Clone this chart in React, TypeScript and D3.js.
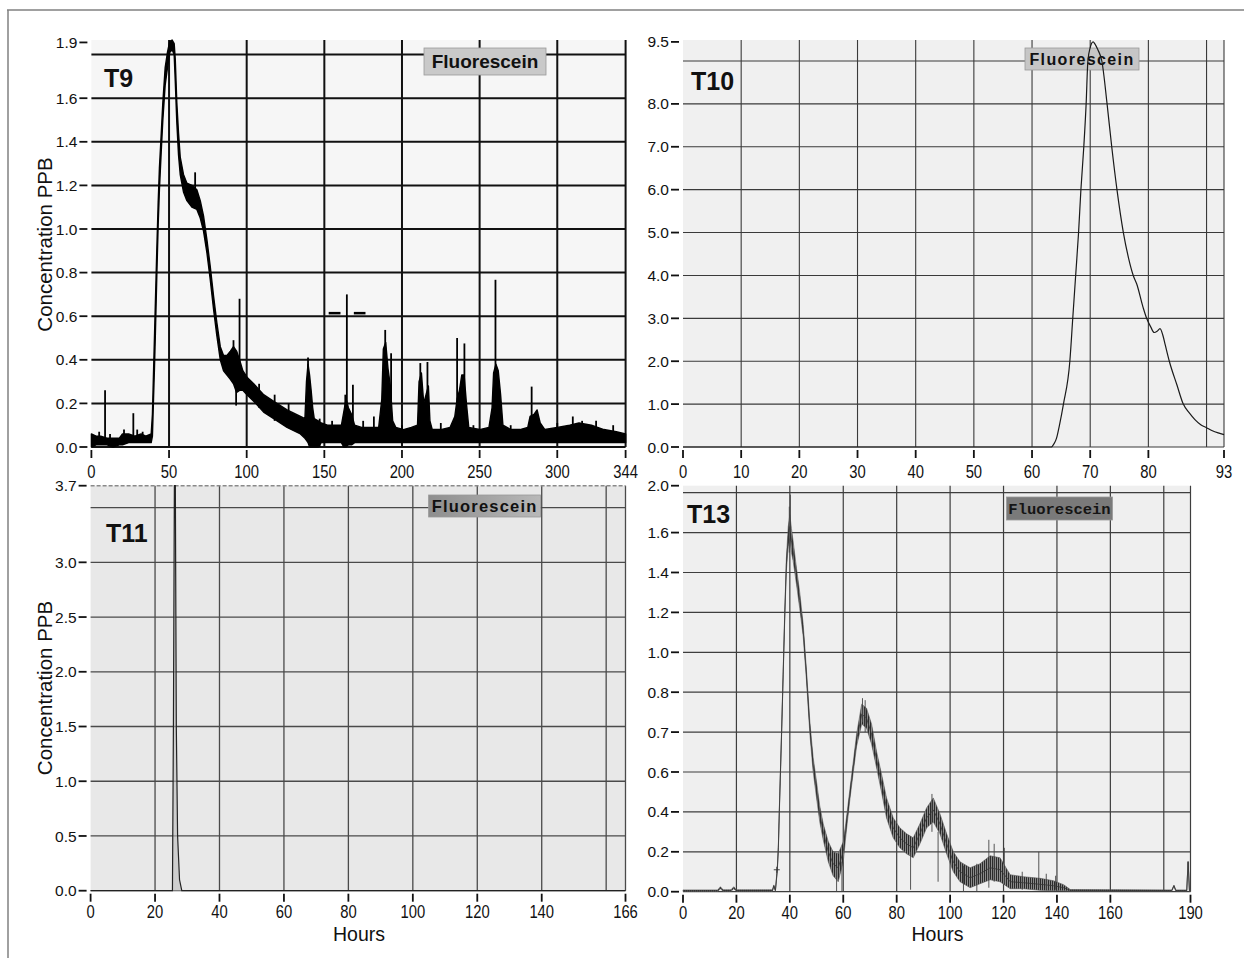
import React from "react";
import * as d3 from "d3";

type Band = [number, number, number];
type Seg = [number, number, number];

const SANS = "'Liberation Sans', Arial, Helvetica, sans-serif";
const MONO = "'Liberation Mono', 'Courier New', monospace";

// ---------------- T9 ----------------
const t9XTicks = [0, 50, 100, 150, 200, 250, 300, 344];
const t9XGrid = [50, 100, 150, 200, 250, 300, 344];
const t9YTicks = [0, 0.2, 0.4, 0.6, 0.8, 1.0, 1.2, 1.4, 1.6, 1.9];
const t9YLabels = ["0.0", "0.2", "0.4", "0.6", "0.8", "1.0", "1.2", "1.4", "1.6", "1.9"];
const t9YGrid = [0.2, 0.4, 0.6, 0.8, 1.0, 1.2, 1.4, 1.6, 1.8];
// [hours, low, high] envelope of the noisy record
const t9Band: Band[] = [
  [0, 0.0, 0.06], [3, 0.01, 0.05], [6, 0.01, 0.05], [10, 0.01, 0.04], [14, 0.0, 0.04],
  [18, 0.01, 0.04], [20, 0.01, 0.06], [24, 0.02, 0.06], [28, 0.02, 0.05], [32, 0.02, 0.06],
  [35, 0.02, 0.05], [38.5, 0.02, 0.06], [39.3, 0.05, 0.15], [40.0, 0.22, 0.34], [40.6, 0.36, 0.5],
  [41.2, 0.52, 0.66], [42.1, 0.78, 0.9], [43.0, 1.02, 1.12], [43.8, 1.18, 1.28], [45.0, 1.36, 1.44],
  [46.0, 1.5, 1.58], [47.5, 1.66, 1.74], [49.0, 1.74, 1.82], [50.5, 1.82, 1.91], [52.0, 1.84, 1.92],
  [53.3, 1.8, 1.89], [54.0, 1.68, 1.78], [55.0, 1.49, 1.58], [56.1, 1.34, 1.44], [57.2, 1.25, 1.33],
  [59.3, 1.17, 1.25], [61.5, 1.13, 1.21], [64.7, 1.1, 1.2], [67.9, 1.09, 1.18], [70.1, 1.05, 1.13],
  [72.2, 0.99, 1.06], [74.4, 0.89, 0.95], [76.5, 0.77, 0.83], [78.7, 0.63, 0.69], [80.8, 0.51, 0.57],
  [83.0, 0.4, 0.46], [85.1, 0.35, 0.42], [87.3, 0.33, 0.42], [89.5, 0.31, 0.44], [91.5, 0.29, 0.46],
  [93.5, 0.25, 0.44], [95.4, 0.26, 0.4], [97.5, 0.26, 0.35], [100.2, 0.24, 0.32], [104.5, 0.21, 0.29],
  [110.9, 0.16, 0.24], [117.4, 0.13, 0.21], [126.0, 0.09, 0.17], [134.6, 0.06, 0.14], [137.5, 0.04, 0.13],
  [138.5, 0.03, 0.3], [139.5, 0.02, 0.38], [140.5, 0.0, 0.33], [141.5, 0.0, 0.26], [142.5, 0.0, 0.18],
  [143.5, 0.0, 0.13], [146.0, 0.0, 0.12], [148.0, 0.02, 0.11], [152, 0.02, 0.1], [157, 0.02, 0.1],
  [161, 0.02, 0.1], [162.5, 0.0, 0.16], [164.0, 0.0, 0.22], [165.5, 0.01, 0.18], [167.5, 0.01, 0.15],
  [169.5, 0.02, 0.1], [174, 0.02, 0.09], [179, 0.02, 0.09], [185, 0.02, 0.09], [187, 0.02, 0.22],
  [188, 0.02, 0.45], [189.5, 0.02, 0.48], [191, 0.02, 0.36], [192.5, 0.02, 0.28], [194, 0.02, 0.12],
  [196, 0.02, 0.09], [201, 0.02, 0.08], [206, 0.02, 0.09], [210, 0.02, 0.1], [211, 0.02, 0.3],
  [212.5, 0.02, 0.34], [214, 0.02, 0.2], [215.5, 0.02, 0.24], [217, 0.02, 0.28], [218, 0.02, 0.12],
  [219.5, 0.02, 0.08], [225, 0.02, 0.08], [231, 0.02, 0.09], [234, 0.02, 0.14], [235.5, 0.02, 0.22],
  [237, 0.02, 0.26], [238.5, 0.02, 0.33], [240, 0.02, 0.33], [241.5, 0.02, 0.2], [243, 0.02, 0.09],
  [250, 0.02, 0.08], [256, 0.02, 0.09], [258, 0.02, 0.18], [259, 0.02, 0.34], [260.5, 0.02, 0.38],
  [262, 0.02, 0.35], [263.5, 0.02, 0.24], [265, 0.02, 0.1], [270, 0.02, 0.08], [276, 0.02, 0.08],
  [281, 0.02, 0.09], [282.5, 0.02, 0.14], [285, 0.02, 0.15], [287, 0.02, 0.17], [289, 0.02, 0.11],
  [292, 0.02, 0.08], [300, 0.02, 0.09], [308, 0.02, 0.1], [314, 0.02, 0.11], [322, 0.02, 0.1],
  [330, 0.02, 0.08], [338, 0.02, 0.07], [344, 0.02, 0.06],
];
// [hours, from, to] isolated spikes
const t9Spikes: Seg[] = [
  [5, 0.02, 0.07], [8.8, 0.02, 0.26], [12, 0.02, 0.06], [21, 0.02, 0.08], [27, 0.02, 0.155],
  [29.5, 0.02, 0.08], [33, 0.02, 0.07], [66.8, 1.15, 1.26], [91.5, 0.35, 0.49], [93.2, 0.19, 0.35],
  [95.4, 0.35, 0.68], [108, 0.18, 0.29], [118, 0.12, 0.24], [127, 0.1, 0.2], [139.5, 0.1, 0.41],
  [147, 0.0, 0.13], [155, 0.05, 0.12], [163.5, 0.0, 0.24], [164.5, 0.1, 0.7], [168.4, 0.1, 0.285],
  [175, 0.05, 0.12], [181.9, 0.05, 0.14], [189.2, 0.1, 0.537], [193, 0.1, 0.43], [200, 0.05, 0.1],
  [211.8, 0.1, 0.385], [216.4, 0.1, 0.39], [225, 0.05, 0.11], [235.5, 0.1, 0.5], [240.2, 0.1, 0.475],
  [246, 0.05, 0.1], [260.2, 0.1, 0.767], [270, 0.05, 0.1], [283.5, 0.1, 0.277], [300, 0.05, 0.11],
  [310, 0.05, 0.14], [316, 0.05, 0.12], [325, 0.05, 0.12], [336, 0.05, 0.1],
];
// [from hours, to hours, value] short dashes
const t9Dashes: Seg[] = [[152.8, 160.4, 0.614], [169, 176.5, 0.614]];

// ---------------- T10 ----------------
const t10XTicks = [0, 10, 20, 30, 40, 50, 60, 70, 80, 93];
const t10XGrid = [10, 20, 30, 40, 50, 60, 70, 80, 90, 93];
const t10YTicks = [0, 1, 2, 3, 4, 5, 6, 7, 8, 9.5];
const t10YLabels = ["0.0", "1.0", "2.0", "3.0", "4.0", "5.0", "6.0", "7.0", "8.0", "9.5"];
const t10YGrid = [1, 2, 3, 4, 5, 6, 7, 8, 9];
const t10Hours = [0, 63.3, 63.8, 64.2, 64.7, 65.4, 66.5, 67.0, 67.5, 68.0, 68.4, 68.9, 69.3, 69.6, 70.0, 70.5, 70.8, 71.3, 72.0, 72.9, 73.7, 74.6, 75.7, 76.6, 77.4, 78.0, 79.1, 79.7, 80.4, 81.0, 81.5, 82.0, 82.5, 82.9, 83.6, 84.9, 86.0, 87.0, 88.0, 89.0, 90.0, 91.0, 92.0, 93.0];
const t10Conc = [0, 0, 0.08, 0.2, 0.5, 1.0, 2.0, 3.0, 4.0, 5.0, 6.0, 7.0, 8.0, 9.0, 9.35, 9.5, 9.45, 9.3, 9.0, 8.0, 7.0, 6.0, 5.0, 4.4, 4.0, 3.8, 3.25, 3.0, 2.8, 2.67, 2.7, 2.76, 2.6, 2.38, 2.0, 1.45, 1.0, 0.8, 0.64, 0.52, 0.45, 0.38, 0.33, 0.29];

// ---------------- T11 ----------------
const t11XTicks = [0, 20, 40, 60, 80, 100, 120, 140, 166];
const t11XGrid = [20, 40, 60, 80, 100, 120, 140, 160, 166];
const t11YTicks = [0, 0.5, 1.0, 1.5, 2.0, 2.5, 3.0, 3.7];
const t11YLabels = ["0.0", "0.5", "1.0", "1.5", "2.0", "2.5", "3.0", "3.7"];
const t11YGrid = [0.5, 1.0, 1.5, 2.0, 2.5, 3.0, 3.5];
const t11Hours = [0, 25.4, 25.7, 26.0, 26.3, 26.6, 27.0, 27.6, 28.3, 166];
const t11Conc = [0, 0, 1.5, 3.7, 3.7, 1.5, 0.5, 0.1, 0, 0];

// ---------------- T13 ----------------
const t13XTicks = [0, 20, 40, 60, 80, 100, 120, 140, 160, 190];
const t13XGrid = [20, 40, 60, 80, 100, 120, 140, 160, 180, 190];
const t13YTicks = [0, 0.2, 0.4, 0.6, 0.8, 1.0, 1.2, 1.4, 1.6, 1.8, 2.035];
const t13YLabels = ["0.0", "0.2", "0.4", "0.6", "0.7", "0.8", "1.0", "1.2", "1.4", "1.6", "2.0"];
const t13YGrid = [0.2, 0.4, 0.6, 0.8, 1.0, 1.2, 1.4, 1.6, 1.8, 2.0];
// [hours, centre, half-width of noise]
const t13Band: Band[] = [
  [0, 0.005, 0.004], [13, 0.005, 0.004], [14, 0.02, 0.005], [15, 0.006, 0.004], [18, 0.006, 0.004],
  [19, 0.02, 0.005], [20, 0.006, 0.004], [33.5, 0.006, 0.004], [34, 0.03, 0.004], [34.6, 0.006, 0.004],
  [35.3, 0.11, 0.01], [35.7, 0.22, 0.01], [36.2, 0.47, 0.012], [36.9, 0.79, 0.012], [37.5, 1.09, 0.015],
  [38.1, 1.39, 0.02], [38.7, 1.64, 0.03], [39.4, 1.78, 0.05], [40.0, 1.83, 0.06], [40.6, 1.76, 0.06],
  [41.2, 1.71, 0.05], [42.5, 1.58, 0.04], [43.7, 1.46, 0.04], [45.0, 1.31, 0.03], [46.2, 1.09, 0.025],
  [47.5, 0.82, 0.03], [48.7, 0.64, 0.035], [50.0, 0.51, 0.04], [51.2, 0.39, 0.04], [52.5, 0.3, 0.04],
  [54.4, 0.2, 0.05], [56.2, 0.14, 0.06], [58.1, 0.12, 0.07], [60.0, 0.2, 0.05], [61.2, 0.34, 0.03],
  [62.5, 0.49, 0.025], [63.7, 0.62, 0.025], [65.0, 0.76, 0.03], [66.9, 0.89, 0.05], [68.7, 0.87, 0.05],
  [70.6, 0.79, 0.05], [72.5, 0.66, 0.04], [74.4, 0.54, 0.045], [76.2, 0.42, 0.05], [78.7, 0.32, 0.05],
  [81.2, 0.27, 0.05], [83.7, 0.24, 0.05], [86.2, 0.22, 0.05], [88.7, 0.29, 0.05], [91.2, 0.37, 0.05],
  [93.7, 0.41, 0.06], [96.2, 0.34, 0.05], [98.7, 0.24, 0.05], [101.2, 0.15, 0.05], [103.7, 0.1, 0.05],
  [107.5, 0.07, 0.05], [111.2, 0.09, 0.05], [115.0, 0.12, 0.06], [118.7, 0.11, 0.06], [122.5, 0.05, 0.035],
  [127.5, 0.045, 0.03], [133.7, 0.037, 0.03], [138.7, 0.03, 0.025], [142.5, 0.02, 0.015], [145.0, 0.007, 0.004],
  [183, 0.006, 0.003], [183.8, 0.03, 0.003], [184.5, 0.006, 0.003], [188.6, 0.006, 0.003], [189.1, 0.15, 0.003],
  [189.6, 0.006, 0.003], [190, 0.006, 0.003],
];
const t13Spikes: Seg[] = [
  [39.8, 1.7, 1.93], [40.2, 1.8, 1.99], [57.5, 0.0, 0.12], [59.5, 0.0, 0.15], [67.2, 0.85, 0.97],
  [68.2, 0.8, 0.96], [85.2, 0.01, 0.2], [93.2, 0.3, 0.49], [95.5, 0.05, 0.3], [105, 0.0, 0.13],
  [110, 0.0, 0.14], [114.5, 0.02, 0.26], [116.5, 0.05, 0.24], [120.3, 0.04, 0.22], [127, 0.01, 0.1],
  [133.2, 0.02, 0.2], [136, 0.01, 0.09], [139.5, 0.01, 0.08],
];
const t13Marker: [number, number] = [35.1, 0.11];

type Scale = d3.ScaleLinear<number, number>;

interface FrameProps {
  x: Scale;
  y: Scale;
  xTicks: number[];
  xGrid: number[];
  yTicks: number[];
  yLabels: string[];
  yGrid: number[];
  gridColor: string;
  gridWidth: number;
  bg: string;
  labelOffset: number;
}

function Frame(p: FrameProps) {
  const [x0, x1] = p.x.range();
  const r = p.y.range();
  const yb = r[0];
  const yt = r[r.length - 1];
  return (
    <g>
      <rect x={x0} y={yt} width={x1 - x0} height={yb - yt} fill={p.bg} />
      {p.yGrid.map((v) => (
        <line key={"h" + v} x1={x0} x2={x1} y1={p.y(v)} y2={p.y(v)} stroke={p.gridColor} strokeWidth={p.gridWidth} />
      ))}
      {p.xGrid.map((v) => (
        <line key={"v" + v} x1={p.x(v)} x2={p.x(v)} y1={yt} y2={yb} stroke={p.gridColor} strokeWidth={p.gridWidth} />
      ))}
      <line x1={x0} x2={x1} y1={yb} y2={yb} stroke={p.gridColor} strokeWidth={p.gridWidth} />
      {p.yTicks.map((v, i) => (
        <g key={"yt" + i}>
          <line x1={x0 - 12} x2={x0 - 4} y1={p.y(v)} y2={p.y(v)} stroke="#111" strokeWidth={1.8} />
          <text x={x0 - 14} y={p.y(v)} dy="0.36em" textAnchor="end" fontFamily={SANS} fontSize={15.5} fill="#111">
            {p.yLabels[i]}
          </text>
        </g>
      ))}
      {p.xTicks.map((v) => (
        <g key={"xt" + v}>
          <line x1={p.x(v)} x2={p.x(v)} y1={yb + 3} y2={yb + 11} stroke="#111" strokeWidth={1.8} />
          <text
            transform={`translate(${p.x(v)},${yb + p.labelOffset}) scale(0.8,1)`}
            textAnchor="middle"
            fontFamily={SANS}
            fontSize={18.5}
            fill="#111"
          >
            {v}
          </text>
        </g>
      ))}
    </g>
  );
}

interface LegendProps {
  x: number;
  y: number;
  w: number;
  h: number;
  fill: string;
  font: string;
  size: number;
  spacing: number;
  color: string;
}

function Legend(p: LegendProps) {
  return (
    <g>
      <rect x={p.x} y={p.y} width={p.w} height={p.h} fill={p.fill} stroke="#9a9a9a" strokeWidth={0.8} />
      <text
        x={p.x + p.w / 2}
        y={p.y + p.h / 2}
        dy="0.36em"
        textAnchor="middle"
        fontFamily={p.font}
        fontWeight="bold"
        fontSize={p.size}
        letterSpacing={p.spacing}
        fill={p.color}
      >
        Fluorescein
      </text>
    </g>
  );
}

function Title({ x, y, text }: { x: number; y: number; text: string }) {
  return (
    <text x={x} y={y} fontFamily={SANS} fontWeight="bold" fontSize={25} fill="#111">
      {text}
    </text>
  );
}

export default function App() {
  // scales
  const x9 = d3.scaleLinear().domain([0, 344]).range([91.4, 625.6]);
  const y9 = d3.scaleLinear().domain([0, 1.8, 1.92]).range([447, 54.6, 40]);
  const x10 = d3.scaleLinear().domain([0, 93]).range([683, 1224]);
  const y10 = d3.scaleLinear().domain([0, 9, 9.55]).range([447, 61, 40]);
  const x11 = d3.scaleLinear().domain([0, 166]).range([90.6, 625.5]);
  const y11 = d3.scaleLinear().domain([0, 3.7]).range([890.7, 485.7]);
  const x13 = d3.scaleLinear().domain([0, 190]).range([683, 1190.5]);
  const y13 = d3.scaleLinear().domain([0, 2.035]).range([891.7, 485.7]);

  const band9 = d3
    .area<Band>()
    .x((d) => x9(d[0]))
    .y0((d) => y9(d[1]))
    .y1((d) => y9(d[2]))(t9Band) as string;

  const line10 = d3
    .line<number>()
    .x((_, i) => x10(t10Hours[i]))
    .y((d) => y10(d))
    .curve(d3.curveMonotoneX)(t10Conc) as string;

  const line11 = d3
    .line<number>()
    .x((_, i) => x11(t11Hours[i]))
    .y((d) => y11(d))(t11Conc) as string;

  const band13 = d3
    .area<Band>()
    .x((d) => x13(d[0]))
    .y0((d) => y13(Math.max(0, d[1] - d[2])))
    .y1((d) => y13(d[1] + d[2]))(t13Band) as string;
  const mid13 = d3
    .line<Band>()
    .x((d) => x13(d[0]))
    .y((d) => y13(d[1]))(t13Band) as string;

  return (
    <svg
      width={1244}
      height={958}
      viewBox="0 0 1244 958"
      style={{ position: "absolute", left: 0, top: 0, background: "#fff" }}
    >
      <defs>
        <pattern id="hatch" width="2" height="4" patternUnits="userSpaceOnUse">
          <rect width="2" height="4" fill="#8a8a8a" />
          <rect width="1" height="4" fill="#2a2a2a" />
        </pattern>
        <linearGradient id="g11" x1="0" x2="1" y1="0" y2="0">
          <stop offset="0" stopColor="#8e8e8e" />
          <stop offset="1" stopColor="#b8b8b8" />
        </linearGradient>
      </defs>
      <rect x={0} y={0} width={1244} height={958} fill="#fff" />
      {/* page frame */}
      <line x1={7} x2={1244} y1={10} y2={10} stroke="#808080" strokeWidth={1.5} />
      <line x1={8} x2={8} y1={10} y2={958} stroke="#808080" strokeWidth={1.5} />

      {/* ---------- T9 ---------- */}
      <Frame
        x={x9}
        y={y9}
        xTicks={t9XTicks}
        xGrid={t9XGrid}
        yTicks={t9YTicks}
        yLabels={t9YLabels}
        yGrid={t9YGrid}
        gridColor="#111"
        gridWidth={2}
        bg="#f6f6f6"
        labelOffset={31}
      />
      <Legend x={424} y={48} w={122} h={27} fill="#c9c9c9" font={SANS} size={19} spacing={0} color="#111" />
      <Title x={104} y={87} text="T9" />
      <path d={band9} fill="#000" stroke="#000" strokeWidth={1.4} strokeLinejoin="round" />
      {t9Spikes.map((s, i) => (
        <line key={"s9" + i} x1={x9(s[0])} x2={x9(s[0])} y1={y9(s[1])} y2={y9(s[2])} stroke="#000" strokeWidth={1.8} />
      ))}
      {t9Dashes.map((s, i) => (
        <line key={"d9" + i} x1={x9(s[0])} x2={x9(s[1])} y1={y9(s[2])} y2={y9(s[2])} stroke="#000" strokeWidth={2.5} />
      ))}

      {/* ---------- T10 ---------- */}
      <Frame
        x={x10}
        y={y10}
        xTicks={t10XTicks}
        xGrid={t10XGrid}
        yTicks={t10YTicks}
        yLabels={t10YLabels}
        yGrid={t10YGrid}
        gridColor="#3a3a3a"
        gridWidth={1.1}
        bg="#f0f0f0"
        labelOffset={31}
      />
      <Legend x={1025} y={48} w={114} h={22} fill="#c6c6c6" font={SANS} size={16} spacing={1.4} color="#111" />
      <Title x={691} y={90} text="T10" />
      <path d={line10} fill="none" stroke="#1a1a1a" strokeWidth={1.2} />

      {/* ---------- T11 ---------- */}
      <Frame
        x={x11}
        y={y11}
        xTicks={t11XTicks}
        xGrid={t11XGrid}
        yTicks={t11YTicks}
        yLabels={t11YLabels}
        yGrid={t11YGrid}
        gridColor="#4a4a4a"
        gridWidth={1.3}
        bg="#e8e8e8"
        labelOffset={27.5}
      />
      <line x1={x11(0)} x2={x11(166)} y1={y11(3.7)} y2={y11(3.7)} stroke="#8a8a8a" strokeWidth={1.5} strokeDasharray="4,2" />
      <Legend x={428.6} y={495} w={112} h={22} fill="url(#g11)" font={SANS} size={16.5} spacing={1.2} color="#111" />
      <Title x={106} y={541.7} text="T11" />
      <path d={line11} fill="#bdbdbd" fillOpacity={0.6} stroke="#222" strokeWidth={1.2} />

      {/* ---------- T13 ---------- */}
      <Frame
        x={x13}
        y={y13}
        xTicks={t13XTicks}
        xGrid={t13XGrid}
        yTicks={t13YTicks}
        yLabels={t13YLabels}
        yGrid={t13YGrid}
        gridColor="#3e3e3e"
        gridWidth={1.2}
        bg="#efefef"
        labelOffset={27.5}
      />
      <Legend x={1006.5} y={497} w={106} h={23} fill="#7a7a7a" font={MONO} size={15.5} spacing={0} color="#151515" />
      <Title x={687} y={522.7} text="T13" />
      <path d={band13} fill="url(#hatch)" stroke="#555" strokeWidth={0.6} />
      <path d={mid13} fill="none" stroke="#333" strokeWidth={0.8} />
      {t13Spikes.map((s, i) => (
        <line key={"s13" + i} x1={x13(s[0])} x2={x13(s[0])} y1={y13(s[1])} y2={y13(s[2])} stroke="#444" strokeWidth={0.9} />
      ))}
      <g stroke="#333" strokeWidth={0.9}>
        <line x1={x13(t13Marker[0]) - 3} x2={x13(t13Marker[0]) + 3} y1={y13(t13Marker[1])} y2={y13(t13Marker[1])} />
        <line x1={x13(t13Marker[0])} x2={x13(t13Marker[0])} y1={y13(t13Marker[1]) - 3} y2={y13(t13Marker[1]) + 3} />
      </g>

      {/* axis titles */}
      <text transform="translate(52,244.5) rotate(-90)" textAnchor="middle" fontFamily={SANS} fontSize={20.5} fill="#111">
        Concentration PPB
      </text>
      <text transform="translate(52,688) rotate(-90)" textAnchor="middle" fontFamily={SANS} fontSize={20.5} fill="#111">
        Concentration PPB
      </text>
      <text x={359} y={941} textAnchor="middle" fontFamily={SANS} fontSize={19.5} fill="#111">
        Hours
      </text>
      <text x={937.5} y={941} textAnchor="middle" fontFamily={SANS} fontSize={19.5} fill="#111">
        Hours
      </text>
    </svg>
  );
}
